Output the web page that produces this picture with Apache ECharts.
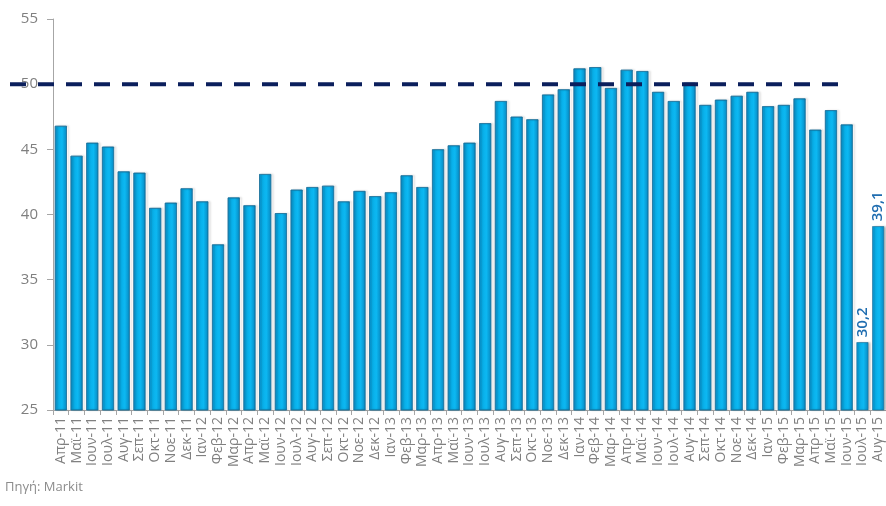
<!DOCTYPE html>
<html>
<head>
<meta charset="utf-8">
<script src="https://cdn.jsdelivr.net/npm/echarts@6/dist/echarts.min.js"></script>
<style>
html,body{margin:0;padding:0;background:#fff;}
#chart{width:886px;height:506px;}
</style>
</head>
<body>
<div id="chart"></div>
<script>
const categories = ['Απρ-11','Μαϊ-11','Ιουν-11','Ιουλ-11','Αυγ-11','Σεπ-11','Οκτ-11','Νοε-11','Δεκ-11',
  'Ιαν-12','Φεβ-12','Μαρ-12','Απρ-12','Μαϊ-12','Ιουν-12','Ιουλ-12','Αυγ-12','Σεπ-12','Οκτ-12','Νοε-12','Δεκ-12',
  'Ιαν-13','Φεβ-13','Μαρ-13','Απρ-13','Μαϊ-13','Ιουν-13','Ιουλ-13','Αυγ-13','Σεπ-13','Οκτ-13','Νοε-13','Δεκ-13',
  'Ιαν-14','Φεβ-14','Μαρ-14','Απρ-14','Μαϊ-14','Ιουν-14','Ιουλ-14','Αυγ-14','Σεπ-14','Οκτ-14','Νοε-14','Δεκ-14',
  'Ιαν-15','Φεβ-15','Μαρ-15','Απρ-15','Μαϊ-15','Ιουν-15','Ιουλ-15','Αυγ-15'];
const pmiValues = [46.8,44.5,45.5,45.2,43.3,43.2,40.5,40.9,42.0,
  41.0,37.7,41.3,40.7,43.1,40.1,41.9,42.1,42.2,41.0,41.8,41.4,
  41.7,43.0,42.1,45.0,45.3,45.5,47.0,48.7,47.5,47.3,49.2,49.6,
  51.2,51.3,49.7,51.1,51.0,49.4,48.7,50.1,48.4,48.8,49.1,49.4,
  48.3,48.4,48.9,46.5,48.0,46.9,30.2,39.1];
const labelledMonths = ['Ιουλ-15','Αυγ-15'];
const thresholdValue = 50;
const thresholdEndCategory = 'Ιουν-15';
const yTicks = {min:25, max:55, interval:5};
const sourceText = 'Πηγή: Markit';

const chart = echarts.init(document.getElementById('chart'));
const barColor = new echarts.graphic.LinearGradient(0,0,1,0,[
  {offset:0, color:'#0a8cc8'},
  {offset:0.25, color:'#08aee8'},
  {offset:0.6, color:'#0cb8f2'},
  {offset:1, color:'#0787c0'}
]);
const seriesData = pmiValues.map((v,i)=>{
  const item = {value:v};
  if (labelledMonths.includes(categories[i])) {
    item.label = {
      show:true, position:'top', rotate:90, align:'left', verticalAlign:'middle',
      distance:5, color:'#1f6db0', fontSize:15, fontWeight:600,
      fontFamily:'Open Sans, sans-serif',
      formatter: p => String(p.value).replace('.', ',')
    };
  }
  return item;
});
chart.setOption({
  animation:false,
  grid:{left:53, right:0, top:19, bottom:96},
  xAxis:{
    type:'category', data:categories,
    axisLine:{lineStyle:{color:'#a6a6a6'}},
    axisTick:{show:true, length:5, lineStyle:{color:'#a6a6a6'}},
    axisLabel:{rotate:90, interval:0, color:'#808080', fontSize:14, margin:7,
      fontFamily:'Open Sans, sans-serif'}
  },
  yAxis:{
    type:'value', min:yTicks.min, max:yTicks.max, interval:yTicks.interval,
    splitLine:{show:false},
    axisLine:{show:true, lineStyle:{color:'#a6a6a6'}},
    axisTick:{show:true, length:6, lineStyle:{color:'#a6a6a6'}},
    axisLabel:{color:'#7f7f7f', fontSize:15, margin:15, fontFamily:'Open Sans, sans-serif'}
  },
  series:[{
    type:'bar', data:seriesData, barCategoryGap:'24%',
    itemStyle:{color:barColor, borderColor:'#1a6f98', borderWidth:0.6,
      shadowColor:'rgba(0,0,0,0.25)', shadowOffsetX:2, shadowBlur:2}
  }]
});

function drawOverlay(){
  const y = chart.convertToPixel({yAxisIndex:0}, thresholdValue);
  const idx = categories.indexOf(thresholdEndCategory);
  const xEnd = chart.convertToPixel({xAxisIndex:0}, idx) - 8;
  chart.setOption({
    graphic:[
      {type:'line', z:100, shape:{x1:10, y1:y, x2:xEnd, y2:y},
        style:{stroke:'#0b1f5c', lineWidth:4, lineDash:[16,12]}},
      {type:'text', left:5, top:481, z:100,
        style:{text:sourceText, fill:'#8c8c8c', fontSize:13, fontFamily:'Open Sans, sans-serif'}}
    ]
  });
}
drawOverlay();
</script>
</body>
</html>
